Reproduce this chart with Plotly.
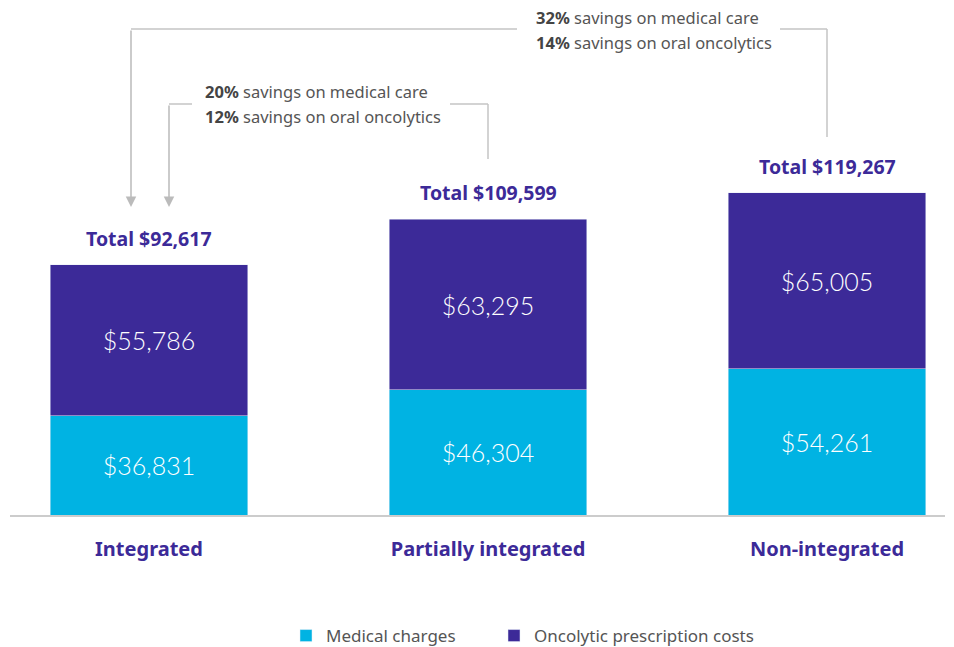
import plotly.graph_objects as go

categories = ["Integrated", "Partially integrated", "Non-integrated"]
medical = [36831, 46304, 54261]
oncolytic = [55786, 63295, 65005]
totals = [92617, 109599, 119267]
legend_names = ["Medical charges", "Oncolytic prescription costs"]

CYAN = "#00B3E3"
PURPLE = "#3C2A98"
GRAY_LINE = "#C4C4C4"
TXT = "#555555"
SANS = "Noto Sans"

W, H = 954, 647
L, R, T, B = 10, 9, 0, 132
plot_h = H - T - B
px_per_dollar = 0.0027
ymax = plot_h / px_per_dollar
x_per_px = 1 / 339.0
xmin = -139 * x_per_px
xmax = xmin + (W - L - R) * x_per_px


def ypx(p):
    """Convert a vertical pixel offset (from top of page) to data units."""
    return (T + plot_h - p) / px_per_dollar


fig = go.Figure()
fig.add_trace(go.Bar(
    x=categories, y=medical, name=legend_names[0], marker_color=CYAN,
    width=0.584, text=[f"${v:,}" for v in medical], textposition="inside",
    insidetextanchor="middle", legend="legend",
    textfont=dict(color="white", size=25, family="Lato", weight=300),
))
fig.add_trace(go.Bar(
    x=categories, y=oncolytic, name=legend_names[1], marker_color=PURPLE,
    width=0.584, text=[f"${v:,}" for v in oncolytic], textposition="inside",
    insidetextanchor="middle", legend="legend2",
    textfont=dict(color="white", size=25, family="Lato", weight=300),
))

annotations = []
for c, t in zip(categories, totals):
    annotations.append(dict(
        x=c, y=t, text=f"<b>Total ${t:,}</b>", showarrow=False,
        yanchor="bottom", yshift=11,
        font=dict(size=19.5, color=PURPLE, family=SANS),
    ))

# bracket text blocks
def text_line(xp, yp, bold, rest):
    annotations.append(dict(
        xref="paper", yref="paper",
        x=(xp - L) / (W - L - R), y=(T + plot_h - yp) / plot_h,
        xanchor="left", yanchor="middle", showarrow=False,
        text=f"<b><span style='color:#444444'>{bold}</span></b> {rest}",
        font=dict(size=16.5, color=TXT, family=SANS),
    ))

text_line(203, 91, "20%", "savings on medical care")
text_line(203, 116, "12%", "savings on oral oncolytics")
text_line(534, 17, "32%", "savings on medical care")
text_line(534, 42, "14%", "savings on oral oncolytics")

c0 = 0.0
c1 = 1.0
c2 = 2.0
xa = c0 - 18 * x_per_px
xb = c0 + 20 * x_per_px

shapes = []
def seg(x0, y0, x1, y1):
    shapes.append(dict(type="line", xref="x", yref="y", x0=x0, y0=y0,
                       x1=x1, y1=y1, line=dict(color=GRAY_LINE, width=1.5)))

# inner bracket (20%/12%)
seg(xb, ypx(104), c0 + 43 * x_per_px, ypx(104))
seg(c0 + 301 * x_per_px, ypx(104), c1, ypx(104))
seg(c1, ypx(104), c1, ypx(159))
# outer bracket (32%/14%)
seg(xa, ypx(29), c0 + 368 * x_per_px, ypx(29))
seg(c0 + 631 * x_per_px, ypx(29), c2, ypx(29))
seg(c2, ypx(29), c2, ypx(137))

for xx, ytop in [(xa, 29), (xb, 104)]:
    annotations.append(dict(
        x=xx, y=ypx(207), ax=xx, ay=ypx(ytop), xref="x", yref="y",
        axref="x", ayref="y", text="", showarrow=True,
        arrowhead=2, arrowsize=1.4, arrowwidth=1.5, arrowcolor="#BBBBBB",
    ))

leg_common = dict(orientation="h", xref="container", yref="container",
                  y=0.017, xanchor="left", yanchor="middle",
                  font=dict(size=17, color=TXT, family=SANS),
                  bgcolor="rgba(0,0,0,0)", borderwidth=0)

fig.update_layout(
    width=W, height=H,
    margin=dict(l=L, r=R, t=T, b=B),
    barmode="stack",
    plot_bgcolor="white", paper_bgcolor="white",
    showlegend=True,
    legend=dict(leg_common, x=(302 - 16) / W),
    legend2=dict(leg_common, x=(510 - 16) / W),
    annotations=annotations,
    shapes=shapes,
    font=dict(family=SANS),
)
fig.update_xaxes(
    range=[xmin, xmax], showline=True, linecolor="#CCCCCC", linewidth=1.5,
    ticks="", showgrid=False, zeroline=False, ticklabelstandoff=15,
    tickfont=dict(size=20, color=PURPLE, family=SANS, weight="bold"),
)
fig.update_yaxes(range=[0, ymax], visible=False, showgrid=False)

fig.write_html("out.html")
